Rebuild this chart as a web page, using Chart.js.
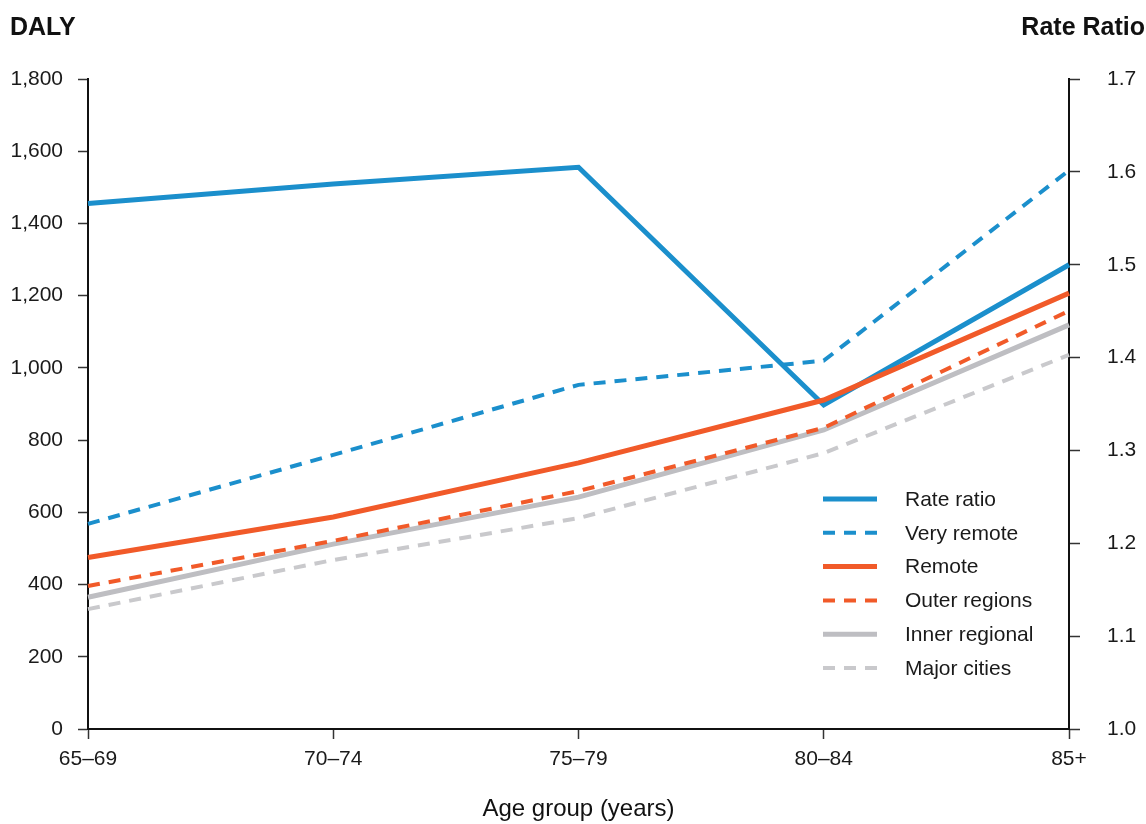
<!DOCTYPE html>
<html>
<head>
<meta charset="utf-8">
<script src="https://cdn.jsdelivr.net/npm/chart.js@4"></script>
<style>
  html, body { margin: 0; padding: 0; background: #ffffff; }
  #wrap { width: 1146px; height: 824px; position: relative; }
</style>
</head>
<body>
<div id="wrap"><canvas id="c"></canvas></div>
<script>
// ---- data ----
const categories = ['65–69', '70–74', '75–79', '80–84', '85+'];
const rateRatio     = [1.566, 1.587, 1.605, 1.349, 1.500];
const veryRemote    = [568, 759, 953, 1020, 1547];
const remote        = [475, 587, 737, 911, 1207];
const outerRegions  = [396, 521, 659, 834, 1158];
const innerRegional = [365, 512, 642, 828, 1119];
const majorCities   = [332, 468, 584, 764, 1036];
const dalyTicks = [0, 200, 400, 600, 800, 1000, 1200, 1400, 1600, 1800];
const ratioTicks = [1.0, 1.1, 1.2, 1.3, 1.4, 1.5, 1.6, 1.7];

const BLUE = '#1b8fcc', ORANGE = '#f15a29', GREY = '#bebec2', LGREY = '#c9c9cc';
const DASH = [12, 9];
const FONT = '"Liberation Sans", Arial, sans-serif';

const overlay = {
  id: 'overlay',
  afterDraw(chart) {
    const ctx = chart.ctx, a = chart.chartArea;
    ctx.save();
    ctx.fillStyle = '#111';
    ctx.textBaseline = 'alphabetic';
    ctx.font = 'bold 25px ' + FONT;
    ctx.textAlign = 'left';
    ctx.fillText('DALY', 10, 35);
    ctx.textAlign = 'right';
    ctx.fillText('Rate Ratio', 1145, 35);
    // legend
    const order = [0, 1, 2, 3, 4, 5];
    ctx.textAlign = 'left';
    ctx.textBaseline = 'middle';
    ctx.font = '21px ' + FONT;
    order.forEach((di, i) => {
      const ds = chart.data.datasets[di];
      const y = a.top + 420 + i * 33.8;
      ctx.beginPath();
      ctx.setLineDash(ds.borderDash || []);
      ctx.lineWidth = ds.borderWidth;
      ctx.strokeStyle = ds.borderColor;
      ctx.moveTo(a.right - 246, y);
      ctx.lineTo(a.right - 192, y);
      ctx.stroke();
      ctx.setLineDash([]);
      ctx.fillStyle = '#1a1a1a';
      ctx.fillText(ds.label, a.right - 164, y + 1);
    });
    ctx.restore();
  }
};

const tickFont = { family: FONT, size: 21 };

new Chart(document.getElementById('c'), {
  type: 'line',
  data: {
    labels: categories,
    datasets: [
      { label: 'Rate ratio', data: rateRatio, yAxisID: 'yR', borderColor: BLUE, borderWidth: 5, order: 3 },
      { label: 'Very remote', data: veryRemote, yAxisID: 'y', borderColor: BLUE, borderWidth: 4, borderDash: DASH, order: 2 },
      { label: 'Remote', data: remote, yAxisID: 'y', borderColor: ORANGE, borderWidth: 5, order: 0 },
      { label: 'Outer regions', data: outerRegions, yAxisID: 'y', borderColor: ORANGE, borderWidth: 4, borderDash: DASH, order: 1 },
      { label: 'Inner regional', data: innerRegional, yAxisID: 'y', borderColor: GREY, borderWidth: 5, order: 4 },
      { label: 'Major cities', data: majorCities, yAxisID: 'y', borderColor: LGREY, borderWidth: 4, borderDash: DASH, order: 5 }
    ].map(d => Object.assign({ pointRadius: 0, pointHoverRadius: 0, tension: 0, fill: false, borderCapStyle: 'butt' }, d))
  },
  options: {
    responsive: true,
    maintainAspectRatio: false,
    animation: false,
    layout: { padding: { top: 79, left: 0, right: 0, bottom: 0 } },
    plugins: { legend: { display: false }, tooltip: { enabled: false } },
    scales: {
      x: {
        type: 'category',
        offset: false,
        border: { color: '#111', width: 2 },
        grid: { drawOnChartArea: false, drawTicks: true, tickLength: 10, tickColor: '#333', tickWidth: 1.5 },
        ticks: { color: '#1a1a1a', font: tickFont, padding: 8, maxRotation: 0, autoSkip: false },
        title: { display: true, text: 'Age group (years)', color: '#111', font: { family: FONT, size: 24 }, padding: { top: 18, bottom: 0 } },
        afterFit(s) { s.height = 95; }
      },
      y: {
        position: 'left',
        min: 0, max: 1800,
        afterBuildTicks(s) { s.ticks = dalyTicks.map(v => ({ value: v })); },
        border: { color: '#111', width: 2 },
        grid: { drawOnChartArea: false, drawTicks: true, tickLength: 10, tickColor: '#333', tickWidth: 1.5 },
        ticks: { color: '#1a1a1a', font: tickFont, padding: 15, callback: v => v.toLocaleString('en-US') },
        afterFit(s) { s.width = 88; }
      },
      yR: {
        position: 'right',
        min: 1.0, max: 1.7,
        afterBuildTicks(s) { s.ticks = ratioTicks.map(v => ({ value: v })); },
        border: { color: '#111', width: 2 },
        grid: { drawOnChartArea: false, drawTicks: true, tickLength: 11, tickColor: '#333', tickWidth: 1.5 },
        ticks: { color: '#1a1a1a', font: tickFont, padding: 27, callback: v => Number(v).toFixed(1) },
        afterFit(s) { s.width = 77; }
      }
    }
  },
  plugins: [overlay]
});
</script>
</body>
</html>
